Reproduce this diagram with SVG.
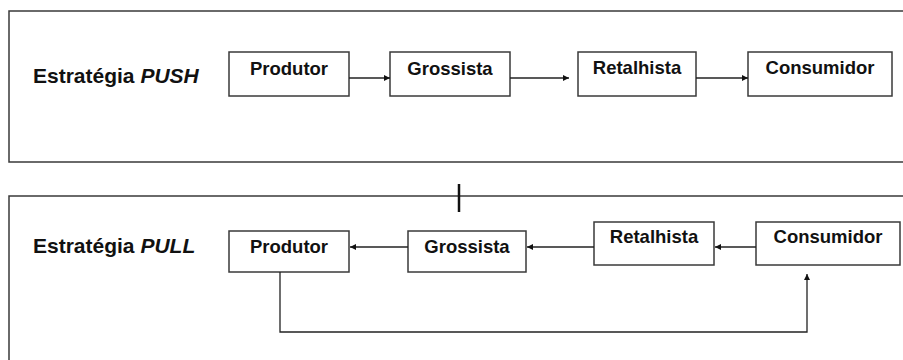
<svg xmlns="http://www.w3.org/2000/svg" width="903" height="360" viewBox="0 0 903 360">
  <style>
    .frame { fill: none; stroke: #3a3a3a; stroke-width: 1.5; }
    .box { fill: #ffffff; stroke: #3a3a3a; stroke-width: 1.5; }
    .label { font-family: "Liberation Sans", Arial, sans-serif; font-weight: bold; font-size: 18.5px; fill: #111; text-anchor: middle; }
    .title { font-family: "Liberation Sans", Arial, sans-serif; font-weight: bold; font-size: 21px; fill: #111; }
    .conn { fill: none; stroke: #222; stroke-width: 1.3; }
  </style>
  <defs>
    <marker id="arrow" viewBox="0 0 10 10" refX="10" refY="5" markerWidth="6.5" markerHeight="6" markerUnits="userSpaceOnUse" orient="auto">
      <path d="M0,0 L10,5 L0,10 Z" fill="#111"/>
    </marker>
  </defs>
  <rect width="903" height="360" fill="#ffffff"/>

  <!-- section frames (open on the right) -->
  <g id="frames">
    <path class="frame" d="M905,11 H9 V162 H905"/>
    <path class="frame" d="M905,196 H9 V362"/>
    <line x1="459" y1="184" x2="459" y2="212" stroke="#111" stroke-width="2.5"/>
  </g>

  <!-- PUSH strategy -->
  <text class="title" x="33" y="83">Estratégia <tspan font-style="italic">PUSH</tspan></text>
  <g id="push-produtor">
    <rect class="box" x="229" y="52" width="120" height="44"/>
    <text class="label" x="289" y="75">Produtor</text>
  </g>
  <g id="push-grossista">
    <rect class="box" x="390" y="52" width="120" height="44"/>
    <text class="label" x="450" y="75">Grossista</text>
  </g>
  <g id="push-retalhista">
    <rect class="box" x="578" y="52" width="118" height="44"/>
    <text class="label" x="637" y="74">Retalhista</text>
  </g>
  <g id="push-consumidor">
    <rect class="box" x="748" y="52" width="144" height="44"/>
    <text class="label" x="820" y="74">Consumidor</text>
  </g>

  <!-- PULL strategy -->
  <text class="title" x="33" y="253">Estratégia <tspan font-style="italic">PULL</tspan></text>
  <g id="pull-produtor">
    <rect class="box" x="229" y="231" width="120" height="41"/>
    <text class="label" x="289" y="253">Produtor</text>
  </g>
  <g id="pull-grossista">
    <rect class="box" x="408" y="231" width="118" height="41"/>
    <text class="label" x="467" y="253">Grossista</text>
  </g>
  <g id="pull-retalhista">
    <rect class="box" x="594" y="222" width="120" height="43"/>
    <text class="label" x="654" y="243">Retalhista</text>
  </g>
  <g id="pull-consumidor">
    <rect class="box" x="756" y="222" width="144" height="43"/>
    <text class="label" x="828" y="243">Consumidor</text>
  </g>

  <!-- connectors -->
  <g id="connectors">
    <line class="conn" x1="349" y1="78" x2="390" y2="78" marker-end="url(#arrow)"/>
    <line class="conn" x1="510" y1="78" x2="569" y2="78" marker-end="url(#arrow)"/>
    <line class="conn" x1="696" y1="78" x2="748" y2="78" marker-end="url(#arrow)"/>

    <line class="conn" x1="408" y1="247" x2="350" y2="247" marker-end="url(#arrow)"/>
    <line class="conn" x1="594" y1="247" x2="527" y2="247" marker-end="url(#arrow)"/>
    <line class="conn" x1="756" y1="247" x2="715" y2="247" marker-end="url(#arrow)"/>
    <path class="conn" d="M280,272 V332 H807 V274" marker-end="url(#arrow)"/>
  </g>
</svg>
